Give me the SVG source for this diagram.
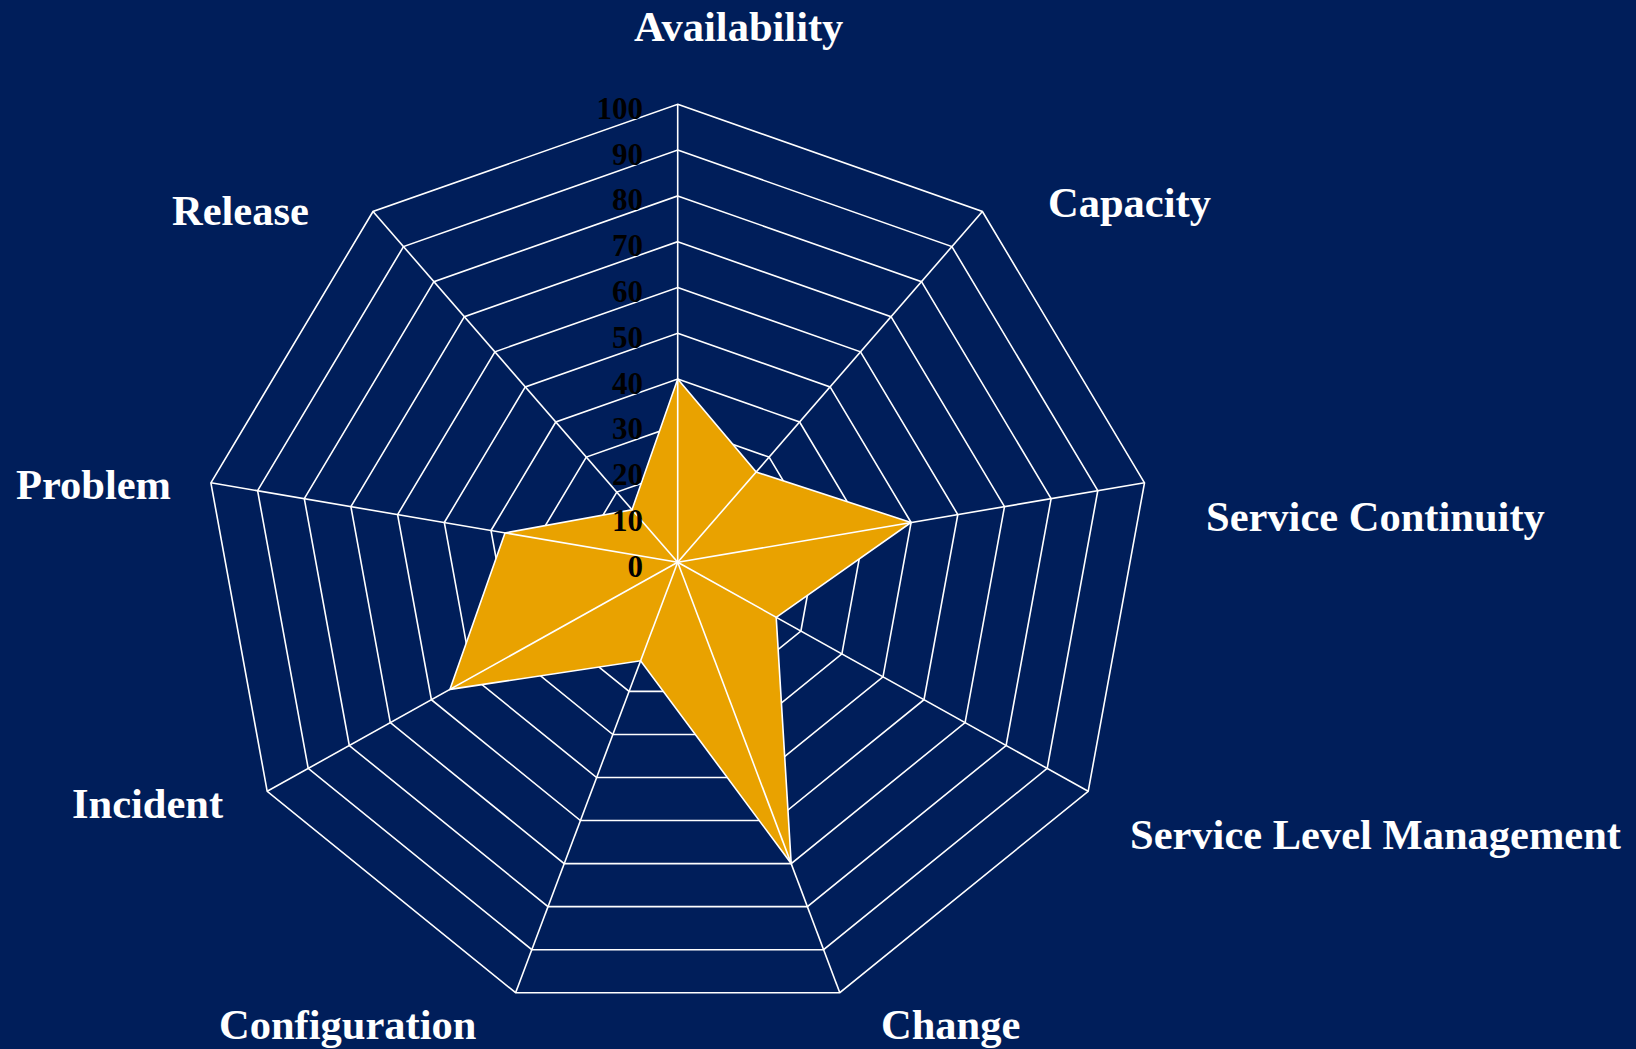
<svg xmlns="http://www.w3.org/2000/svg" width="1636" height="1049" viewBox="0 0 1636 1049">
<style>
.ring{fill:none;stroke:#ffffff;stroke-width:1.6}
.spoke{stroke:#ffffff;stroke-width:1.6}
.data{fill:#E9A200;stroke:#ffffff;stroke-width:1.6;stroke-linejoin:miter}
.lbl{font-family:"Liberation Serif","Times New Roman",serif;font-weight:bold;font-size:42.5px;fill:#ffffff}
.tick{font-family:"Liberation Serif","Times New Roman",serif;font-weight:bold;font-size:31px;fill:#000000;text-anchor:end}
</style>
<rect x="0" y="0" width="1636" height="1049" fill="#001E5A"/>
<g id="grid">
<polygon class="ring" points="677.7,104.3 982.4,211.5 1144.5,482.8 1088.2,791.3 839.8,992.7 515.6,992.7 267.2,791.3 210.9,482.8 373,211.5"/>
<polygon class="ring" points="677.7,150.1 951.9,246.6 1097.8,490.7 1047.2,768.4 823.6,949.7 531.8,949.7 308.2,768.4 257.6,490.7 403.5,246.6"/>
<polygon class="ring" points="677.7,195.9 921.5,281.7 1051.1,498.7 1006.1,745.5 807.4,906.6 548,906.6 349.3,745.5 304.3,498.7 433.9,281.7"/>
<polygon class="ring" points="677.7,241.7 891,316.7 1004.5,506.6 965.1,722.6 791.2,863.6 564.2,863.6 390.3,722.6 350.9,506.6 464.4,316.7"/>
<polygon class="ring" points="677.7,287.5 860.5,351.8 957.8,514.6 924,699.7 775,820.5 580.4,820.5 431.4,699.7 397.6,514.6 494.9,351.8"/>
<polygon class="ring" points="677.7,333.3 830.1,386.9 911.1,522.5 883,676.8 758.8,777.5 596.6,777.5 472.4,676.8 444.3,522.5 525.3,386.9"/>
<polygon class="ring" points="677.7,379.1 799.6,422 864.4,530.5 841.9,653.9 742.5,734.5 612.9,734.5 513.5,653.9 491,530.5 555.8,422"/>
<polygon class="ring" points="677.7,424.9 769.1,457.1 817.7,538.4 800.9,631 726.3,691.4 629.1,691.4 554.5,631 537.7,538.4 586.3,457.1"/>
<polygon class="ring" points="677.7,470.7 738.6,492.1 771.1,546.4 759.8,608.1 710.1,648.4 645.3,648.4 595.6,608.1 584.3,546.4 616.8,492.1"/>
<polygon class="ring" points="677.7,516.5 708.2,527.2 724.4,554.3 718.8,585.2 693.9,605.3 661.5,605.3 636.6,585.2 631,554.3 647.2,527.2"/>
</g>
<g id="series">
<polygon class="data" points="677.7,379.1 756.2,472 911.1,522.5 776.2,617.3 791.2,863.6 640.6,660.8 449.9,689.4 505,532.9 632,509.7"/>
</g>
<g id="spokes">
<line class="spoke" x1="677.7" y1="562.3" x2="677.7" y2="104.3"/>
<line class="spoke" x1="677.7" y1="562.3" x2="982.4" y2="211.5"/>
<line class="spoke" x1="677.7" y1="562.3" x2="1144.5" y2="482.8"/>
<line class="spoke" x1="677.7" y1="562.3" x2="1088.2" y2="791.3"/>
<line class="spoke" x1="677.7" y1="562.3" x2="839.8" y2="992.7"/>
<line class="spoke" x1="677.7" y1="562.3" x2="515.6" y2="992.7"/>
<line class="spoke" x1="677.7" y1="562.3" x2="267.2" y2="791.3"/>
<line class="spoke" x1="677.7" y1="562.3" x2="210.9" y2="482.8"/>
<line class="spoke" x1="677.7" y1="562.3" x2="373" y2="211.5"/>
</g>
<g id="ticks">
<text class="tick" x="643" y="576.8">0</text>
<text class="tick" x="643" y="531">10</text>
<text class="tick" x="643" y="485.2">20</text>
<text class="tick" x="643" y="439.4">30</text>
<text class="tick" x="643" y="393.6">40</text>
<text class="tick" x="643" y="347.8">50</text>
<text class="tick" x="643" y="302">60</text>
<text class="tick" x="643" y="256.2">70</text>
<text class="tick" x="643" y="210.4">80</text>
<text class="tick" x="643" y="164.6">90</text>
<text class="tick" x="643" y="118.8">100</text>
</g>
<g id="labels">
<text class="lbl" x="634" y="41">Availability</text>
<text class="lbl" x="1048" y="217">Capacity</text>
<text class="lbl" x="1206" y="531">Service Continuity</text>
<text class="lbl" x="1130" y="849">Service Level Management</text>
<text class="lbl" x="881" y="1039">Change</text>
<text class="lbl" x="219" y="1039">Configuration</text>
<text class="lbl" x="72" y="818">Incident</text>
<text class="lbl" x="16" y="499">Problem</text>
<text class="lbl" x="172" y="225">Release</text>
</g>
</svg>
